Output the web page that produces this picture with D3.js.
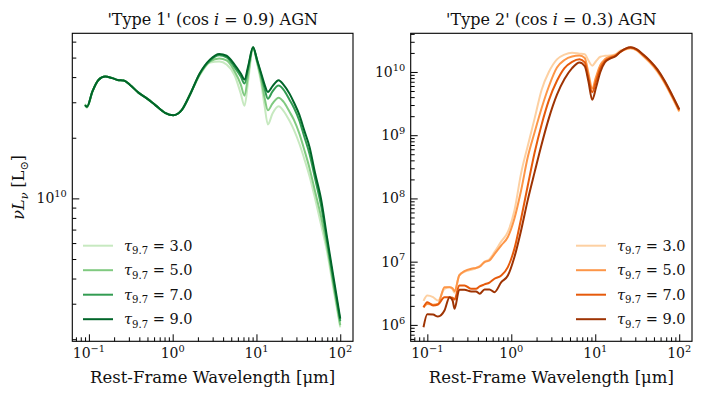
<!DOCTYPE html>
<html>
<head>
<meta charset="utf-8">
<script src="https://cdn.jsdelivr.net/npm/d3@7"></script>
<style>
  body { margin: 0; background: #fff; }
  svg { display: block; font-family: "DejaVu Serif", serif; }
</style>
</head>
<body>
<svg id="chart" width="701" height="400"></svg>
<script>
// rest-frame wavelength grids (micron)
const lamType1 = [0.09, 0.095, 0.11, 0.13, 0.156, 0.19, 0.22, 0.26, 0.31, 0.39, 0.5, 0.62, 0.81, 1.02, 1.28, 1.6,
  2.1, 2.8, 3.6, 4.4, 5.5, 6.5, 7.2, 8.0, 9.1, 10.2, 11.4, 12.5, 13.7, 15.5, 18.4, 21, 24.8, 28, 32.6, 37, 43, 50, 59, 70, 83, 100]
const lamType2 = [0.09, 0.1, 0.117, 0.134, 0.16, 0.184, 0.2, 0.211, 0.24, 0.277, 0.334, 0.38, 0.42, 0.48, 0.55,
  0.63, 0.76, 0.91, 1.09, 1.31, 1.57, 1.9, 2.3, 2.8, 3.5, 4.3, 5.3, 6.5, 7.5, 8.3, 9.2, 10.2, 11.5, 13, 15, 17.5,
  20, 23, 26.5, 31, 37, 45, 55, 67, 82, 100]

// log10(nu L_nu / L_sun)
const type1Tau3 = [10.47, 10.45, 10.53, 10.588, 10.605, 10.597, 10.588, 10.585, 10.563, 10.525, 10.494, 10.463, 10.425, 10.413, 10.438, 10.513,
  10.61, 10.675, 10.68, 10.665, 10.61, 10.52, 10.46, 10.59, 10.745, 10.67, 10.57, 10.46, 10.367, 10.42, 10.457, 10.435, 10.385, 10.34, 10.27, 10.2, 10.11, 10.0, 9.87, 9.73, 9.55, 9.36]
const type1Tau5 = [10.463, 10.452, 10.53, 10.588, 10.605, 10.597, 10.588, 10.585, 10.563, 10.525, 10.494, 10.463, 10.425, 10.413, 10.438, 10.513,
  10.615, 10.68, 10.695, 10.685, 10.63, 10.565, 10.51, 10.62, 10.748, 10.675, 10.59, 10.5, 10.437, 10.47, 10.50, 10.48, 10.43, 10.39, 10.32, 10.245, 10.15, 10.035, 9.91, 9.755, 9.57, 9.37]
const type1Tau7 = [10.463, 10.455, 10.53, 10.588, 10.605, 10.597, 10.588, 10.585, 10.563, 10.525, 10.494, 10.463, 10.425, 10.413, 10.438, 10.513,
  10.618, 10.685, 10.71, 10.70, 10.65, 10.605, 10.57, 10.65, 10.75, 10.683, 10.61, 10.545, 10.495, 10.53, 10.56, 10.54, 10.49, 10.45, 10.385, 10.31, 10.22, 10.1, 9.965, 9.78, 9.59, 9.39]
const type1Tau9 = [10.463, 10.455, 10.53, 10.588, 10.605, 10.597, 10.588, 10.585, 10.563, 10.525, 10.494, 10.463, 10.425, 10.413, 10.438, 10.513,
  10.62, 10.69, 10.717, 10.708, 10.663, 10.62, 10.59, 10.66, 10.75, 10.686, 10.62, 10.565, 10.528, 10.556, 10.587, 10.565, 10.52, 10.476, 10.413, 10.34, 10.255, 10.127, 9.997, 9.80, 9.61, 9.403]

const type2Tau3 = [6.38, 6.465, 6.44, 6.386, 6.57, 6.60, 6.56, 6.51, 6.783, 6.84, 6.87, 6.9, 6.93, 7.0, 7.04, 7.15, 7.32, 7.47, 7.81, 8.4,
  8.83, 9.27, 9.72, 10.0, 10.2, 10.275, 10.305, 10.29, 10.28, 10.18, 10.10, 10.17, 10.24, 10.255, 10.26, 10.28, 10.34, 10.36, 10.37, 10.34,
  10.25, 10.14, 10.0, 9.82, 9.60, 9.37]
const type2Tau5 = [6.279, 6.33, 6.32, 6.33, 6.597, 6.597, 6.58, 6.533, 6.783, 6.85, 6.889, 6.9, 6.92, 6.994, 7.02, 7.12, 7.259, 7.39, 7.683, 8.13,
  8.65, 9.05, 9.43, 9.77, 10.07, 10.19, 10.245, 10.26, 10.22, 9.98, 9.74, 9.92, 10.11, 10.2, 10.24, 10.27, 10.32, 10.36, 10.38, 10.35,
  10.26, 10.155, 10.015, 9.835, 9.615, 9.38]
const type2Tau7 = [6.279, 6.36, 6.306, 6.322, 6.438, 6.438, 6.43, 6.40, 6.624, 6.624, 6.57, 6.57, 6.608, 6.64, 6.67, 6.73, 6.78, 6.914, 7.206, 7.683,
  8.2, 8.73, 9.17, 9.55, 9.86, 10.06, 10.16, 10.2, 10.15, 9.9, 9.68, 9.85, 10.06, 10.17, 10.22, 10.26, 10.32, 10.37, 10.385, 10.355,
  10.27, 10.165, 10.03, 9.85, 9.63, 9.40]
const type2Tau9 = [5.962, 6.17, 6.163, 6.132, 6.227, 6.438, 6.386, 6.254, 6.556, 6.556, 6.529, 6.53, 6.492, 6.56, 6.56, 6.518, 6.676, 6.78, 7.073, 7.497,
  7.973, 8.42, 8.857, 9.266, 9.64, 9.887, 10.06, 10.15, 10.09, 9.85, 9.56, 9.75, 10.0, 10.15, 10.21, 10.25, 10.32, 10.37, 10.39, 10.36,
  10.28, 10.175, 10.04, 9.86, 9.64, 9.41]

const tauLabels = ["3.0", "5.0", "7.0", "9.0"]
const xTickExps = [-1, 0, 1, 2]

const greens = ["#c7e9c0", "#80ca80", "#339c52", "#006529"]
const oranges = ["#fdd0a2", "#fd9648", "#e65a0b", "#9e3303"]

const svg = d3.select("#chart")

// mathtext-ish helper: parts = [{t, it, sub, sup}]
function rich(text, parts, size) {
  let shift = 0
  parts.forEach(p => {
    const target = p.sub ? 0.25 * size : p.sup ? -0.45 * size : 0
    const ts = text.append("tspan").text(p.t)
      .attr("dy", target - shift)
      .attr("font-size", (p.sub || p.sup) ? size * 0.7 : size)
    if (p.it) ts.attr("font-style", "italic")
    shift = target
  })
}

function logPad(vals) {
  const lo = d3.min(vals), hi = d3.max(vals), pad = 0.05 * (hi - lo)
  return [Math.pow(10, lo - pad), Math.pow(10, hi + pad)]
}

function panel(cfg) {
  const { left, right, top, bottom } = cfg
  const lam = cfg.lam
  const x = d3.scaleLog().domain(logPad(lam.map(Math.log10))).range([left, right])
  const y = d3.scaleLog().domain(logPad(cfg.series.flat())).range([bottom, top])

  const g = svg.append("g")

  // curves
  const line = d3.line()
    .x((d, i) => x(lam[i]))
    .y(d => y(Math.pow(10, d)))
    .curve(d3.curveMonotoneX)

  g.append("g").selectAll("path")
    .data(cfg.series)
    .join("path")
    .attr("d", d => line(d))
    .attr("fill", "none")
    .attr("stroke", (d, i) => cfg.colors[i])
    .attr("stroke-width", 2)
    .attr("stroke-linejoin", "round")

  // x ticks (inward)
  const [x0, x1] = x.domain()
  const xMinor = []
  for (let e = -2; e <= 2; e++) for (let k = 2; k <= 9; k++) {
    const v = k * Math.pow(10, e)
    if (v >= x0 && v <= x1) xMinor.push(v)
  }
  const xMajor = xTickExps.map(e => Math.pow(10, e))

  const gx = g.append("g").attr("transform", `translate(0,${bottom})`)
  gx.call(d3.axisBottom(x).tickValues(xMinor).tickSize(-4).tickFormat(""))
  gx.append("g").call(d3.axisBottom(x).tickValues(xMajor).tickSize(-7).tickFormat(""))
  gx.selectAll(".domain").remove()
  gx.selectAll("line").attr("stroke", "#000").attr("stroke-width", 1)

  xTickExps.forEach(e => {
    const t = g.append("text")
      .attr("x", x(Math.pow(10, e)))
      .attr("y", bottom + 17)
      .attr("text-anchor", "middle")
      .attr("fill", "#111")
    rich(t, [{ t: "10" }, { t: e < 0 ? "\u2212" + (-e) : String(e), sup: true }], 14)
  })

  // y ticks (inward)
  const [y0, y1] = y.domain()
  const yMinor = [], yExps = []
  for (let e = Math.floor(Math.log10(y0)); e <= Math.ceil(Math.log10(y1)); e++) {
    const dec = Math.pow(10, e)
    if (dec >= y0 && dec <= y1) yExps.push(e)
    for (let k = 2; k <= 9; k++) {
      const v = k * dec
      if (v >= y0 && v <= y1) yMinor.push(v)
    }
  }
  const gy = g.append("g").attr("transform", `translate(${left},0)`)
  gy.call(d3.axisLeft(y).tickValues(yMinor).tickSize(-4).tickFormat(""))
  gy.append("g").call(d3.axisLeft(y).tickValues(yExps.map(e => Math.pow(10, e))).tickSize(-7).tickFormat(""))
  gy.selectAll(".domain").remove()
  gy.selectAll("line").attr("stroke", "#000").attr("stroke-width", 1)

  yExps.forEach(e => {
    const t = g.append("text")
      .attr("x", left - 5.5)
      .attr("y", y(Math.pow(10, e)) + 5)
      .attr("text-anchor", "end")
      .attr("fill", "#111")
    rich(t, [{ t: "10" }, { t: String(e), sup: true }], 14)
  })

  // frame
  g.append("rect")
    .attr("x", left).attr("y", top)
    .attr("width", right - left).attr("height", bottom - top)
    .attr("fill", "none").attr("stroke", "#000").attr("stroke-width", 1.1)

  // title
  const title = g.append("text")
    .attr("x", (left + right) / 2).attr("y", 24.5)
    .attr("text-anchor", "middle").attr("fill", "#111")
  rich(title, [{ t: cfg.titleA }, { t: "i", it: true }, { t: cfg.titleB }], 16)

  // x label
  g.append("text")
    .attr("x", (left + right) / 2).attr("y", 382.5)
    .attr("text-anchor", "middle").attr("fill", "#111")
    .attr("font-size", 16.5)
    .text("Rest-Frame Wavelength [\u03bcm]")

  // legend
  const leg = g.append("g").selectAll("g")
    .data(tauLabels)
    .join("g")
    .attr("transform", (d, i) => `translate(${cfg.legendX},${245.7 + i * 24.5})`)
  leg.append("line")
    .attr("x1", 0).attr("x2", 30)
    .attr("stroke", (d, i) => cfg.colors[i])
    .attr("stroke-width", 2)
  leg.append("text")
    .attr("x", 41).attr("y", 5)
    .attr("fill", "#111")
    .each(function (d) {
      rich(d3.select(this), [{ t: "\u03c4", it: true }, { t: "9.7", sub: true }, { t: " = " + d }], 14.5)
    })
}

panel({
  left: 72.3, right: 353, top: 33.3, bottom: 341.3,
  lam: lamType1,
  series: [type1Tau3, type1Tau5, type1Tau7, type1Tau9],
  colors: greens,
  titleA: "'Type 1' (cos ", titleB: " = 0.9) AGN",
  legendX: 83
})

panel({
  left: 410.7, right: 692, top: 33.3, bottom: 341.3,
  lam: lamType2,
  series: [type2Tau3, type2Tau5, type2Tau7, type2Tau9],
  colors: oranges,
  titleA: "'Type 2' (cos ", titleB: " = 0.3) AGN",
  legendX: 576
})

// y label (left panel only)
const ylab = svg.append("text")
  .attr("transform", "translate(24,187.3) rotate(-90)")
  .attr("text-anchor", "middle").attr("fill", "#111")
rich(ylab, [{ t: "\u03bd", it: true }, { t: "L", it: true }, { t: "\u03bd", it: true, sub: true }, { t: " [L" }, { t: "\u2299", sub: true }, { t: "]" }], 16)
</script>
</body>
</html>
